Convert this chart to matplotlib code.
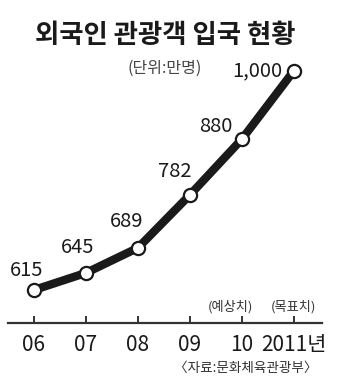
import matplotlib
matplotlib.use("Agg")
import matplotlib.pyplot as plt

plt.rcParams["font.family"] = ["Noto Sans CJK KR", "DejaVu Sans"]

TITLE = "외국인 관광객 입국 현황"
UNIT = "(단위:만명)"
SOURCE = "〈자료:문화체육관광부〉"

years = ["06", "07", "08", "09", "10", "2011년"]
visitors = [615, 645, 689, 782, 880, 1000]
value_labels = ["615", "645", "689", "782", "880", "1,000"]
# label offsets from each point, in points
label_offsets = [(-5, 14), (-6, 18), (-8, 19), (-11, 17), (-19, 9), (-26, 0)]
notes = {4: "(예상치)", 5: "(목표치)"}

fig = plt.figure(figsize=(3.4, 3.88), dpi=100)
ax = fig.add_axes([0.0235, 0.1675, 0.9235, 0.678])

x = list(range(len(years)))
ax.plot(x, visitors, color="#1a1a1a", lw=6, solid_capstyle="round", zorder=2)
ax.plot(x, visitors, ls="none", marker="o", ms=9.5, mfc="white",
        mec="#1a1a1a", mew=1.6, zorder=3)

for xi, v, lab, off in zip(x, visitors, value_labels, label_offsets):
    ax.annotate(lab, (xi, v), xytext=off, textcoords="offset points",
                ha="center", va="center", fontsize=14.5, color="#1a1a1a")

for xi, txt in notes.items():
    ax.annotate(txt, (xi, 557), xytext=(-8 if xi == 4 else 0, 12),
                textcoords="offset points", ha="center", va="center",
                fontsize=9.5, color="#333333")

ax.set_xlim(-0.5, 5.54)
ax.set_ylim(557, 1019)
ax.set_xticks(x)
ax.set_xticklabels(years)
ax.set_yticks([])
for s in ["top", "right", "left"]:
    ax.spines[s].set_visible(False)
ax.spines["bottom"].set_color("#333333")
ax.spines["bottom"].set_linewidth(1.6)
ax.tick_params(axis="x", direction="in", length=5, width=1.4,
               color="#333333", pad=8, labelsize=15, labelcolor="#1a1a1a")
ax.patch.set_alpha(0)

fig.text(0.487, 0.908, TITLE, ha="center", va="center", fontsize=19,
         fontweight="bold", color="#1a1a1a")
fig.text(0.485, 0.825, UNIT, ha="center", va="center", fontsize=11.5,
         color="#444444")
fig.text(0.933, 0.052, SOURCE, ha="right", va="center", fontsize=9.8,
         color="#333333")

fig.savefig("out.png", dpi=100)
